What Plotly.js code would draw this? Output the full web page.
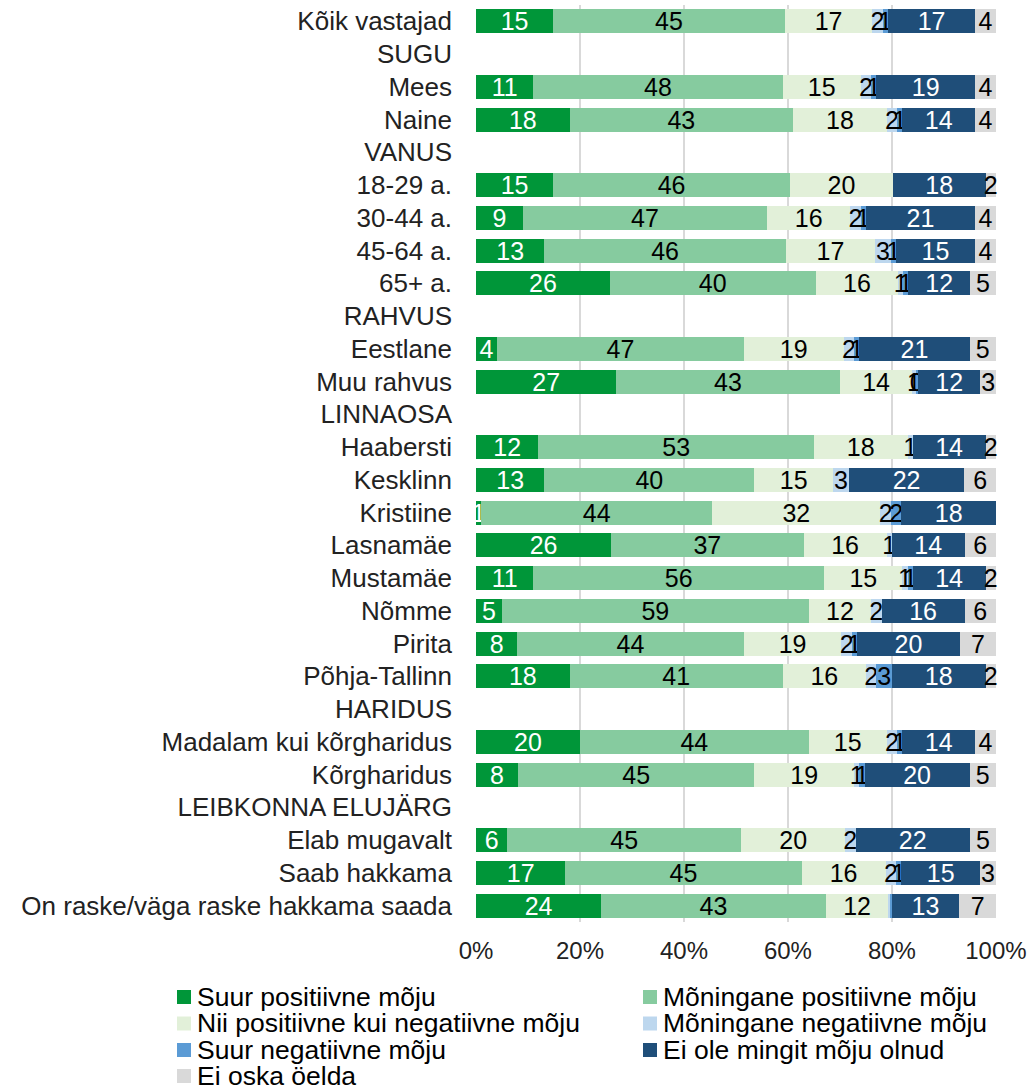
<!DOCTYPE html>
<html>
<head>
<meta charset="utf-8">
<script src="https://cdn.plot.ly/plotly-3.0.1.min.js"></script>
<style>html,body{margin:0;padding:0;background:#fff;}#chart{width:1032px;height:1088px;}</style>
</head>
<body>
<div id="chart"></div>
<script>
const categories = [
  'Kõik vastajad', 'SUGU', 'Mees', 'Naine', 'VANUS', '18-29 a.', '30-44 a.', '45-64 a.', '65+ a.',
  'RAHVUS', 'Eestlane', 'Muu rahvus', 'LINNAOSA', 'Haabersti', 'Kesklinn', 'Kristiine', 'Lasnamäe',
  'Mustamäe', 'Nõmme', 'Pirita', 'Põhja-Tallinn', 'HARIDUS', 'Madalam kui kõrgharidus', 'Kõrgharidus',
  'LEIBKONNA ELUJÄRG', 'Elab mugavalt', 'Saab hakkama', 'On raske/väga raske hakkama saada'
];
const seriesNames = [
  'Suur positiivne mõju', 'Mõningane positiivne mõju', 'Nii positiivne kui negatiivne mõju',
  'Mõningane negatiivne mõju', 'Suur negatiivne mõju', 'Ei ole mingit mõju olnud', 'Ei oska öelda'
];
const suurPositiivne      = [15,null,11,18,null,15, 9,13,26,null, 4,27,  null,12,13, 1,26,11, 5, 8,18,null,20, 8,null, 6,17,24];
const moninganePositiivne = [45,null,48,43,null,46,47,46,40,null,47,43,  null,53,40,44,37,56,59,44,41,null,44,45,null,45,45,43];
const niiPosKuiNeg        = [17,null,15,18,null,20,16,17,16,null,19,14,  null,18,15,32,16,15,12,19,16,null,15,19,null,20,16,12];
const moninganeNegatiivne = [ 2,null, 2, 2,null, 0, 2, 3, 1,null, 2,0.6, null, 1, 3, 2, 1, 1, 2, 2, 2,null, 2, 1,null, 2, 2,0.3];
const suurNegatiivne      = [ 1,null, 1, 1,null, 0, 1, 1, 1,null, 1,0.45,null, 0, 0, 2, 0, 1, 0, 1, 3,null, 1, 1,null, 0, 1,0.3];
const eiOleMoju           = [17,null,19,14,null,18,21,15,12,null,21,12,  null,14,22,18,14,14,16,20,18,null,14,20,null,22,15,13];
const eiOska              = [ 4,null, 4, 4,null, 2, 4, 4, 5,null, 5, 3,  null, 2, 6, 0, 6, 2, 6, 7, 2,null, 4, 5,null, 5, 3, 7];
const tickValues = [0, 20, 40, 60, 80, 100];

const seriesValues = [suurPositiivne, moninganePositiivne, niiPosKuiNeg, moninganeNegatiivne, suurNegatiivne, eiOleMoju, eiOska];
const colors = ['#009639', '#86CB9F', '#E2F0D9', '#BDD7EE', '#5B9BD5', '#1F4E79', '#D9D9D9'];
const textColors = ['#ffffff', '#000000', '#000000', '#000000', '#000000', '#ffffff', '#000000'];
const FONT = '"Liberation Sans", Arial, sans-serif';

const traces = seriesNames.map((name, i) => ({
  type: 'bar',
  orientation: 'h',
  name: name,
  y: categories,
  x: seriesValues[i],
  text: seriesValues[i].map(v => (v === null || v < 0.35) ? '' : String(Math.round(v))),
  textposition: 'inside',
  insidetextanchor: 'middle',
  constraintext: 'none',
  textangle: 0,
  cliponaxis: false,
  textfont: {family: FONT, size: 25, color: textColors[i]},
  marker: {color: colors[i], line: {width: 0}},
  hoverinfo: 'name+x',
  showlegend: false
}));

const W = 1032, H = 1088;
const M = {l: 476, r: 36, t: 5, b: 166};
const pw = W - M.l - M.r, ph = H - M.t - M.b;
const px = x => (x - M.l) / pw;
const py = y => (H - M.b - y) / ph;

// custom legend (two columns)
const legendCols = [184, 650];
const legendRows = [997, 1023.5, 1050, 1076];
const shapes = [];
const annotations = [];
seriesNames.forEach((name, i) => {
  const cx = legendCols[i % 2];
  const cy = legendRows[Math.floor(i / 2)];
  shapes.push({
    type: 'rect', xref: 'paper', yref: 'paper',
    x0: px(cx - 7), x1: px(cx + 7), y0: py(cy + 7), y1: py(cy - 7),
    fillcolor: colors[i], line: {width: 0}
  });
  annotations.push({
    xref: 'paper', yref: 'paper', x: px(cx + 11), y: py(cy),
    xanchor: 'left', yanchor: 'middle', showarrow: false,
    text: name, font: {family: FONT, size: 26.5, color: '#000'}
  });
});

const layout = {
  width: W, height: H,
  margin: M,
  barmode: 'stack',
  barnorm: 'percent',
  bargap: 0.27,
  paper_bgcolor: '#fff',
  plot_bgcolor: '#fff',
  font: {family: FONT, size: 26, color: '#000'},
  showlegend: false,
  xaxis: {
    range: [0, 100.02],
    tickvals: tickValues,
    ticktext: tickValues.map(v => v + '%'),
    showgrid: true, gridcolor: '#D9D9D9', gridwidth: 2,
    zeroline: false, showline: false, ticks: '',
    ticklabelstandoff: 12,
    tickfont: {family: FONT, size: 24, color: '#222'},
    fixedrange: true
  },
  yaxis: {
    type: 'category',
    categoryorder: 'array', categoryarray: categories,
    autorange: 'reversed',
    ticks: '', showgrid: false, zeroline: false, showline: false,
    ticklabelstandoff: 23,
    tickfont: {family: FONT, size: 26, color: '#222'},
    fixedrange: true
  },
  shapes: shapes,
  annotations: annotations
};

Plotly.newPlot('chart', traces, layout, {displayModeBar: false, staticPlot: true});
</script>
</body>
</html>
